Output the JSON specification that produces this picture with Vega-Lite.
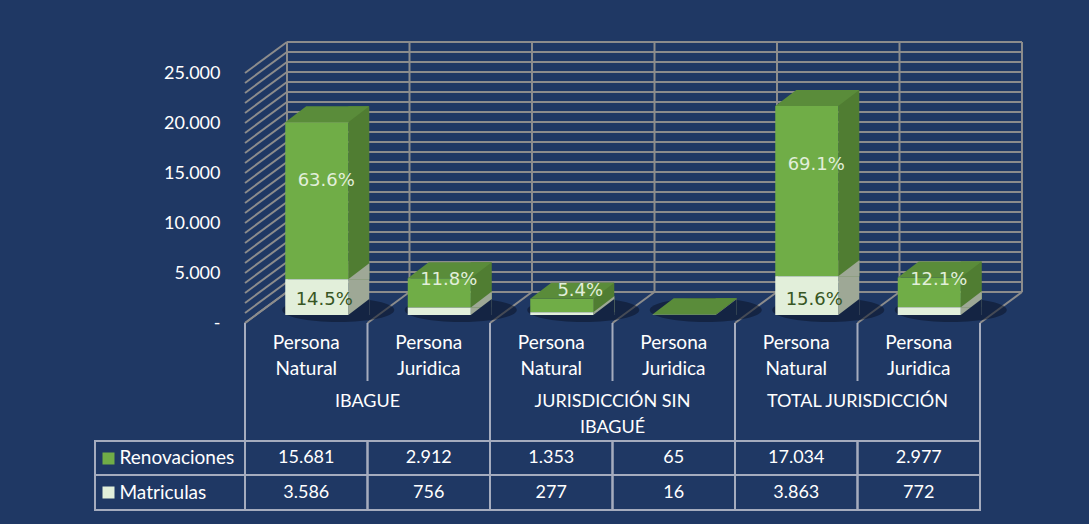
{
  "$schema": "https://vega.github.io/schema/vega-lite/v6.json",
  "background": "#1F3864",
  "padding": {"left": 94, "top": 38, "right": 66, "bottom": 16},
  "config": {
    "view": {"stroke": null},
    "locale": {"number": {"decimal": ",", "thousands": ".", "grouping": [3], "currency": ["$", ""]}}
  },
  "datasets": {
    "barras": [
      {"col": "IBAGUE|Persona Natural", "series": "Renovaciones", "value": 15681, "pct": "63.6%"},
      {"col": "IBAGUE|Persona Natural", "series": "Matriculas", "value": 3586, "pct": "14.5%"},
      {"col": "IBAGUE|Persona Juridica", "series": "Renovaciones", "value": 2912, "pct": "11.8%"},
      {"col": "IBAGUE|Persona Juridica", "series": "Matriculas", "value": 756, "pct": ""},
      {"col": "JURISDICCIÓN SIN IBAGUÉ|Persona Natural", "series": "Renovaciones", "value": 1353, "pct": "5.4%"},
      {"col": "JURISDICCIÓN SIN IBAGUÉ|Persona Natural", "series": "Matriculas", "value": 277, "pct": ""},
      {"col": "JURISDICCIÓN SIN IBAGUÉ|Persona Juridica", "series": "Renovaciones", "value": 65, "pct": ""},
      {"col": "JURISDICCIÓN SIN IBAGUÉ|Persona Juridica", "series": "Matriculas", "value": 16, "pct": ""},
      {"col": "TOTAL JURISDICCIÓN|Persona Natural", "series": "Renovaciones", "value": 17034, "pct": "69.1%"},
      {"col": "TOTAL JURISDICCIÓN|Persona Natural", "series": "Matriculas", "value": 3863, "pct": "15.6%"},
      {"col": "TOTAL JURISDICCIÓN|Persona Juridica", "series": "Renovaciones", "value": 2977, "pct": "12.1%"},
      {"col": "TOTAL JURISDICCIÓN|Persona Juridica", "series": "Matriculas", "value": 772, "pct": ""}
    ],
    "columnas": [
      {"col": "IBAGUE|Persona Natural", "tipo": "Persona Natural"},
      {"col": "IBAGUE|Persona Juridica", "tipo": "Persona Juridica"},
      {"col": "JURISDICCIÓN SIN IBAGUÉ|Persona Natural", "tipo": "Persona Natural"},
      {"col": "JURISDICCIÓN SIN IBAGUÉ|Persona Juridica", "tipo": "Persona Juridica"},
      {"col": "TOTAL JURISDICCIÓN|Persona Natural", "tipo": "Persona Natural"},
      {"col": "TOTAL JURISDICCIÓN|Persona Juridica", "tipo": "Persona Juridica"}
    ],
    "fin": [{"col": "TOTAL JURISDICCIÓN|Persona Juridica", "grupo": "TOTAL JURISDICCIÓN"}],
    "grupos": [
      {"grupo": "IBAGUE", "etiqueta": "IBAGUE"},
      {"grupo": "JURISDICCIÓN SIN IBAGUÉ", "etiqueta": "JURISDICCIÓN SIN\nIBAGUÉ"},
      {"grupo": "TOTAL JURISDICCIÓN", "etiqueta": "TOTAL JURISDICCIÓN"}
    ],
    "grid": [
      {"v": 0}, {"v": 1000}, {"v": 2000}, {"v": 3000}, {"v": 4000}, {"v": 5000}, {"v": 6000},
      {"v": 7000}, {"v": 8000}, {"v": 9000}, {"v": 10000}, {"v": 11000}, {"v": 12000},
      {"v": 13000}, {"v": 14000}, {"v": 15000}, {"v": 16000}, {"v": 17000}, {"v": 18000},
      {"v": 19000}, {"v": 20000}, {"v": 21000}, {"v": 22000}, {"v": 23000}, {"v": 24000}, {"v": 25000}
    ]
  },
  "columns": 2,
  "spacing": 0,
  "bounds": "flush",
  "concat": [
    {"width": 150, "height": 250, "data": {"values": []}, "mark": "point"},
    {
      "width": 735,
      "height": 250,
      "layer": [
        {
          "data": {"name": "grid"},
          "mark": {"type": "rule", "color": "#8C8C8C", "strokeWidth": 2, "xOffset": 42, "x2Offset": 42, "yOffset": -31},
          "encoding": {
            "x": {"datum": "IBAGUE|Persona Natural", "type": "nominal", "bandPosition": 0, "scale": {"type": "band", "domain": ["IBAGUE|Persona Natural", "IBAGUE|Persona Juridica", "JURISDICCIÓN SIN IBAGUÉ|Persona Natural", "JURISDICCIÓN SIN IBAGUÉ|Persona Juridica", "TOTAL JURISDICCIÓN|Persona Natural", "TOTAL JURISDICCIÓN|Persona Juridica"], "paddingInner": 0, "paddingOuter": 0}, "axis": null},
            "x2": {"datum": "TOTAL JURISDICCIÓN|Persona Juridica", "bandPosition": 1},
            "y": {"field": "v", "type": "quantitative", "scale": {"domain": [0, 25000], "nice": false, "zero": true},
              "axis": {"values": [0, 5000, 10000, 15000, 20000, 25000], "labelExpr": "datum.value == 0 ? '-\u00a0\u00a0\u00a0' : replace(format(datum.value, ','), ',', '.')", "domain": false, "ticks": false, "grid": false, "labelPadding": 25, "labelFont": "Lato", "labelFontSize": 18, "labelColor": "#FFFFFF", "title": null}}
          }
        },
        {
          "data": {"name": "columnas"},
          "mark": {"type": "rule", "color": "#8C8C8C", "strokeWidth": 2, "xOffset": 42, "yOffset": -31, "y2Offset": -31},
          "encoding": {
            "x": {"field": "col", "type": "nominal", "bandPosition": 0, "axis": null},
            "y": {"datum": 0, "type": "quantitative", "title": null},
            "y2": {"datum": 25000}
          }
        },
        {
          "data": {"name": "fin"},
          "mark": {"type": "rule", "color": "#8C8C8C", "strokeWidth": 2, "xOffset": 42, "yOffset": -31, "y2Offset": -31},
          "encoding": {
            "x": {"field": "col", "type": "nominal", "bandPosition": 1, "axis": null},
            "y": {"datum": 0, "type": "quantitative", "title": null},
            "y2": {"datum": 25000}
          }
        },
        {
          "data": {"name": "grid"},
          "mark": {"type": "point", "shape": "M0,0L42,-31", "size": 4, "filled": false, "stroke": "#8C8C8C", "strokeWidth": 2, "opacity": 1},
          "encoding": {
            "x": {"datum": "IBAGUE|Persona Natural", "type": "nominal", "bandPosition": 0, "axis": null},
            "y": {"field": "v", "type": "quantitative", "title": null}
          }
        },
        {
          "data": {"name": "columnas"},
          "mark": {"type": "point", "shape": "M0,0L42,-31", "size": 4, "filled": false, "stroke": "#8C8C8C", "strokeWidth": 2, "opacity": 1},
          "encoding": {
            "x": {"field": "col", "type": "nominal", "bandPosition": 0, "axis": null},
            "y": {"datum": 0, "type": "quantitative", "title": null}
          }
        },
        {
          "data": {"name": "fin"},
          "mark": {"type": "point", "shape": "M0,0L42,-31", "size": 4, "filled": false, "stroke": "#8C8C8C", "strokeWidth": 2, "opacity": 1},
          "encoding": {
            "x": {"field": "col", "type": "nominal", "bandPosition": 1, "axis": null},
            "y": {"datum": 0, "type": "quantitative", "title": null}
          }
        },
        {
          "data": {"name": "barras"},
          "transform": [{"filter": "datum.series == 'Matriculas'"}],
          "mark": {"type": "point", "shape": "M-24,-13A56,12,0,1,0,88,-13A56,12,0,1,0,-24,-13Z", "size": 4, "filled": true, "fill": "#0B1428", "strokeWidth": 0, "opacity": 0.55},
          "encoding": {
            "x": {"field": "col", "type": "nominal", "axis": null},
            "y": {"datum": 0, "type": "quantitative", "title": null}
          }
        },
        {
          "data": {"name": "barras"},
          "transform": [
            {"stack": "value", "groupby": ["col"], "sort": [{"field": "series", "order": "ascending"}], "as": ["v0", "v1"]},
            {"filter": "datum.series == 'Matriculas'"}
          ],
          "mark": {"type": "bar", "width": 21, "xOffset": 52.5, "yOffset": -24, "y2Offset": -8, "color": "#9EA896"},
          "encoding": {
            "x": {"field": "col", "type": "nominal", "axis": null},
            "y": {"field": "v1", "type": "quantitative", "title": null},
            "y2": {"field": "v0"}
          }
        },
        {
          "data": {"name": "barras"},
          "transform": [
            {"stack": "value", "groupby": ["col"], "sort": [{"field": "series", "order": "ascending"}], "as": ["v0", "v1"]},
            {"filter": "datum.series == 'Renovaciones'"}
          ],
          "mark": {"type": "bar", "width": 21, "xOffset": 52.5, "yOffset": -24, "y2Offset": -8, "color": "#507D32"},
          "encoding": {
            "x": {"field": "col", "type": "nominal", "axis": null},
            "y": {"field": "v1", "type": "quantitative", "title": null},
            "y2": {"field": "v0"}
          }
        },
        {
          "data": {"name": "barras"},
          "transform": [
            {"stack": "value", "groupby": ["col"], "sort": [{"field": "series", "order": "ascending"}], "as": ["v0", "v1"]},
            {"filter": "datum.series == 'Matriculas'"}
          ],
          "mark": {"type": "point", "shape": "M42,-8L63,-8L63,-24Z", "size": 4, "filled": true, "fill": "#9EA896", "strokeWidth": 0, "opacity": 1},
          "encoding": {
            "x": {"field": "col", "type": "nominal", "axis": null},
            "y": {"field": "v1", "type": "quantitative", "title": null}
          }
        },
        {
          "data": {"name": "barras"},
          "transform": [{"filter": "datum.series == 'Matriculas'"}],
          "mark": {"type": "point", "shape": "M42,-8L63,-8L63,-24Z", "size": 4, "filled": true, "fill": "#142443", "strokeWidth": 0, "opacity": 1},
          "encoding": {
            "x": {"field": "col", "type": "nominal", "axis": null},
            "y": {"datum": 0, "type": "quantitative", "title": null}
          }
        },
        {
          "data": {"name": "barras"},
          "transform": [
            {"stack": "value", "groupby": ["col"], "sort": [{"field": "series", "order": "ascending"}], "as": ["v0", "v1"]}
          ],
          "mark": {"type": "bar", "width": 63, "xOffset": 10.5, "yOffset": -8, "y2Offset": -8},
          "encoding": {
            "x": {"field": "col", "type": "nominal", "axis": null},
            "y": {"field": "v1", "type": "quantitative", "title": null},
            "y2": {"field": "v0"},
            "color": {"condition": {"test": "datum.series == 'Matriculas'", "value": "#E2EFDA"}, "value": "#70AD47"}
          }
        },
        {
          "data": {"name": "barras"},
          "transform": [
            {"stack": "value", "groupby": ["col"], "sort": [{"field": "series", "order": "ascending"}], "as": ["v0", "v1"]},
            {"filter": "datum.series == 'Renovaciones'"}
          ],
          "mark": {"type": "point", "shape": "M-21,-8L42,-8L63,-24L0,-24Z", "size": 4, "filled": true, "fill": "#5A8C3A", "strokeWidth": 0, "opacity": 1},
          "encoding": {
            "x": {"field": "col", "type": "nominal", "axis": null},
            "y": {"field": "v1", "type": "quantitative", "title": null}
          }
        },
        {
          "data": {"name": "barras"},
          "transform": [
            {"stack": "value", "groupby": ["col"], "sort": [{"field": "series", "order": "ascending"}], "as": ["v0", "v1"]},
            {"filter": "datum.series == 'Renovaciones' && datum.value > 10000"}
          ],
          "mark": {"type": "text", "font": "DejaVu Sans", "fontSize": 18, "color": "#E2EFDA", "baseline": "middle", "dx": 20, "dy": 51},
          "encoding": {
            "x": {"field": "col", "type": "nominal", "axis": null},
            "y": {"field": "v1", "type": "quantitative", "title": null},
            "text": {"field": "pct"}
          }
        },
        {
          "data": {"name": "barras"},
          "transform": [
            {"stack": "value", "groupby": ["col"], "sort": [{"field": "series", "order": "ascending"}], "as": ["v0", "v1"]},
            {"filter": "datum.series == 'Renovaciones' && datum.value < 10000 && datum.value > 2000 && datum.pct != ''"}
          ],
          "mark": {"type": "text", "font": "DejaVu Sans", "fontSize": 18, "color": "#E2EFDA", "baseline": "middle", "dx": 20, "dy": -6},
          "encoding": {
            "x": {"field": "col", "type": "nominal", "axis": null},
            "y": {"field": "v1", "type": "quantitative", "title": null},
            "text": {"field": "pct"}
          }
        },
        {
          "data": {"name": "barras"},
          "transform": [
            {"stack": "value", "groupby": ["col"], "sort": [{"field": "series", "order": "ascending"}], "as": ["v0", "v1"]},
            {"filter": "datum.series == 'Renovaciones' && datum.value < 2000 && datum.pct != ''"}
          ],
          "mark": {"type": "text", "font": "DejaVu Sans", "fontSize": 18, "color": "#E2EFDA", "baseline": "middle", "dx": 29, "dy": -16},
          "encoding": {
            "x": {"field": "col", "type": "nominal", "axis": null},
            "y": {"field": "v1", "type": "quantitative", "title": null},
            "text": {"field": "pct"}
          }
        },
        {
          "data": {"name": "barras"},
          "transform": [
            {"stack": "value", "groupby": ["col"], "sort": [{"field": "series", "order": "ascending"}], "as": ["v0", "v1"]},
            {"filter": "datum.series == 'Matriculas' && datum.pct != ''"}
          ],
          "mark": {"type": "text", "font": "DejaVu Sans", "fontSize": 18, "color": "#375623", "baseline": "middle", "dx": 18, "dy": -23},
          "encoding": {
            "x": {"field": "col", "type": "nominal", "axis": null},
            "y": {"field": "v0", "type": "quantitative", "title": null},
            "text": {"field": "pct"}
          }
        }
      ]
    },
    {"width": 150, "height": 58, "data": {"values": []}, "mark": "point"},
    {
      "width": 735,
      "height": 58,
      "data": {"name": "columnas"},
      "layer": [
        {
          "mark": {"type": "rule", "color": "#A5ACBE", "strokeWidth": 2},
          "encoding": {"x": {"field": "col", "type": "nominal", "bandPosition": 0, "scale": {"type": "band", "domain": ["IBAGUE|Persona Natural", "IBAGUE|Persona Juridica", "JURISDICCIÓN SIN IBAGUÉ|Persona Natural", "JURISDICCIÓN SIN IBAGUÉ|Persona Juridica", "TOTAL JURISDICCIÓN|Persona Natural", "TOTAL JURISDICCIÓN|Persona Juridica"], "paddingInner": 0, "paddingOuter": 0}, "axis": null}}
        },
        {
          "data": {"name": "fin"},
          "mark": {"type": "rule", "color": "#A5ACBE", "strokeWidth": 2},
          "encoding": {"x": {"field": "col", "type": "nominal", "bandPosition": 1, "axis": null}}
        },
        {
          "mark": {"type": "text", "font": "Lato", "fontSize": 19, "color": "#FFFFFF", "lineBreak": " ", "lineHeight": 26, "baseline": "middle", "dy": -9},
          "encoding": {"x": {"field": "col", "type": "nominal", "axis": null}, "text": {"field": "tipo"}}
        }
      ]
    },
    {"width": 150, "height": 60, "data": {"values": []}, "mark": "point"},
    {
      "width": 735,
      "height": 60,
      "data": {"name": "grupos"},
      "layer": [
        {
          "mark": {"type": "rule", "color": "#A5ACBE", "strokeWidth": 2},
          "encoding": {"x": {"field": "grupo", "type": "nominal", "bandPosition": 0, "scale": {"type": "band", "domain": ["IBAGUE", "JURISDICCIÓN SIN IBAGUÉ", "TOTAL JURISDICCIÓN"], "paddingInner": 0, "paddingOuter": 0}, "axis": null}}
        },
        {
          "data": {"name": "fin"},
          "mark": {"type": "rule", "color": "#A5ACBE", "strokeWidth": 2},
          "encoding": {"x": {"field": "grupo", "type": "nominal", "bandPosition": 1, "axis": null}}
        },
        {
          "mark": {"type": "text", "font": "Lato", "fontSize": 18, "color": "#FFFFFF", "lineBreak": "\n", "lineHeight": 26, "baseline": "top", "dy": -18},
          "encoding": {"x": {"field": "grupo", "type": "nominal", "axis": null}, "text": {"field": "etiqueta"}}
        }
      ]
    },
    {
      "width": 150, "height": 34, "data": {"values": [{"k": "a"}]},
      "mark": {"type": "rect", "fillOpacity": 0, "stroke": "#A5ACBE", "strokeWidth": 2},
      "encoding": {
        "x": {"field": "k", "type": "nominal", "scale": {"type": "band", "paddingInner": 0, "paddingOuter": 0}, "axis": null},
        "y": {"field": "k", "type": "nominal", "scale": {"type": "band", "paddingInner": 0, "paddingOuter": 0}, "axis": null}
      }
    },
    {
      "width": 735,
      "height": 34,
      "data": {"name": "barras"},
      "transform": [{"filter": "datum.series == 'Renovaciones'"}],
      "layer": [
        {
          "mark": {"type": "rect", "fillOpacity": 0, "stroke": "#A5ACBE", "strokeWidth": 2},
          "encoding": {"x": {"field": "col", "type": "nominal", "scale": {"type": "band", "domain": ["IBAGUE|Persona Natural", "IBAGUE|Persona Juridica", "JURISDICCIÓN SIN IBAGUÉ|Persona Natural", "JURISDICCIÓN SIN IBAGUÉ|Persona Juridica", "TOTAL JURISDICCIÓN|Persona Natural", "TOTAL JURISDICCIÓN|Persona Juridica"], "paddingInner": 0, "paddingOuter": 0}, "axis": null}}
        },
        {
          "mark": {"type": "text", "font": "Lato", "fontSize": 18, "color": "#FFFFFF", "baseline": "middle"},
          "encoding": {
            "x": {"field": "col", "type": "nominal", "axis": null},
            "y": {"field": "series", "type": "nominal", "scale": {"type": "band", "paddingInner": 0, "paddingOuter": 0},
              "axis": {"orient": "left", "domain": false, "ticks": true, "tickSize": 12, "tickWidth": 12, "tickColor": "#70AD47", "tickCap": "butt", "offset": 131, "labelAlign": "left", "labelBaseline": "middle", "labelPadding": -17, "labelFont": "Lato", "labelFontSize": 19, "labelColor": "#FFFFFF", "title": null}},
            "text": {"field": "value", "type": "quantitative", "format": ","}
          }
        }
      ]
    },
    {
      "width": 150, "height": 35, "data": {"values": [{"k": "a"}]},
      "mark": {"type": "rect", "fillOpacity": 0, "stroke": "#A5ACBE", "strokeWidth": 2},
      "encoding": {
        "x": {"field": "k", "type": "nominal", "scale": {"type": "band", "paddingInner": 0, "paddingOuter": 0}, "axis": null},
        "y": {"field": "k", "type": "nominal", "scale": {"type": "band", "paddingInner": 0, "paddingOuter": 0}, "axis": null}
      }
    },
    {
      "width": 735,
      "height": 35,
      "data": {"name": "barras"},
      "transform": [{"filter": "datum.series == 'Matriculas'"}],
      "layer": [
        {
          "mark": {"type": "rect", "fillOpacity": 0, "stroke": "#A5ACBE", "strokeWidth": 2},
          "encoding": {"x": {"field": "col", "type": "nominal", "scale": {"type": "band", "domain": ["IBAGUE|Persona Natural", "IBAGUE|Persona Juridica", "JURISDICCIÓN SIN IBAGUÉ|Persona Natural", "JURISDICCIÓN SIN IBAGUÉ|Persona Juridica", "TOTAL JURISDICCIÓN|Persona Natural", "TOTAL JURISDICCIÓN|Persona Juridica"], "paddingInner": 0, "paddingOuter": 0}, "axis": null}}
        },
        {
          "mark": {"type": "text", "font": "Lato", "fontSize": 18, "color": "#FFFFFF", "baseline": "middle"},
          "encoding": {
            "x": {"field": "col", "type": "nominal", "axis": null},
            "y": {"field": "series", "type": "nominal", "scale": {"type": "band", "paddingInner": 0, "paddingOuter": 0},
              "axis": {"orient": "left", "domain": false, "ticks": true, "tickSize": 12, "tickWidth": 12, "tickColor": "#E2EFDA", "tickCap": "butt", "offset": 131, "labelAlign": "left", "labelBaseline": "middle", "labelPadding": -17, "labelFont": "Lato", "labelFontSize": 19, "labelColor": "#FFFFFF", "title": null}},
            "text": {"field": "value", "type": "quantitative", "format": ","}
          }
        }
      ]
    }
  ]
}
